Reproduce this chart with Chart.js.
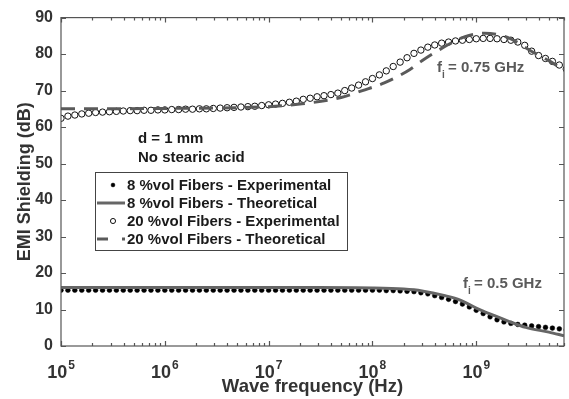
<!DOCTYPE html>
<html>
<head>
<meta charset="utf-8">
<script src="https://cdn.jsdelivr.net/npm/chart.js@4"></script>
<style>
  html, body { margin: 0; padding: 0; background: #ffffff; }
  #chart { display: block; }
</style>
</head>
<body>
<canvas id="chart" width="569" height="399"></canvas>
<script>
// Measured points (15 per decade), shared by both experimental series
const expFreq = [
    1.000e5, 1.166e5, 1.359e5, 1.585e5, 1.848e5, 2.154e5, 2.512e5, 2.929e5, 3.415e5, 3.981e5, 4.642e5, 5.412e5, 6.310e5, 7.356e5, 8.577e5,
    1.000e6, 1.166e6, 1.359e6, 1.585e6, 1.848e6, 2.154e6, 2.512e6, 2.929e6, 3.415e6, 3.981e6, 4.642e6, 5.412e6, 6.310e6, 7.356e6, 8.577e6,
    1.000e7, 1.166e7, 1.359e7, 1.585e7, 1.848e7, 2.154e7, 2.512e7, 2.929e7, 3.415e7, 3.981e7, 4.642e7, 5.412e7, 6.310e7, 7.356e7, 8.577e7,
    1.000e8, 1.166e8, 1.359e8, 1.585e8, 1.848e8, 2.154e8, 2.512e8, 2.929e8, 3.415e8, 3.981e8, 4.642e8, 5.412e8, 6.310e8, 7.356e8, 8.577e8,
    1.000e9, 1.166e9, 1.359e9, 1.585e9, 1.848e9, 2.154e9, 2.512e9, 2.929e9, 3.415e9, 3.981e9, 4.642e9, 5.412e9, 6.310e9, 7.356e9
];
const exp8 = [
    15.3, 15.3, 15.3, 15.3, 15.3, 15.3, 15.3, 15.3, 15.3, 15.3, 15.3, 15.3, 15.3, 15.3, 15.3,
    15.3, 15.3, 15.3, 15.3, 15.3, 15.3, 15.3, 15.3, 15.3, 15.3, 15.3, 15.3, 15.3, 15.3, 15.3,
    15.3, 15.3, 15.3, 15.3, 15.3, 15.3, 15.3, 15.3, 15.3, 15.3, 15.3, 15.3, 15.3, 15.3, 15.3,
    15.3, 15.3, 15.2, 15.2, 15.1, 15.0, 14.9, 14.6, 14.3, 13.8, 13.3, 12.8, 12.2, 11.5, 10.7,
    9.8, 8.9, 8.0, 7.2, 6.6, 6.2, 5.9, 5.7, 5.5, 5.3, 5.1, 4.9, 4.7, 4.4
];
const exp20 = [
    62.4, 63.0, 63.3, 63.6, 63.8, 64.0, 64.1, 64.2, 64.3, 64.4, 64.5, 64.5, 64.6, 64.6, 64.7,
    64.7, 64.8, 64.8, 64.9, 64.9, 65.0, 65.0, 65.1, 65.2, 65.3, 65.4, 65.5, 65.6, 65.7, 65.9,
    66.1, 66.3, 66.5, 66.8, 67.1, 67.6, 67.9, 68.3, 68.6, 68.9, 69.3, 70.0, 70.7, 71.5, 72.4,
    73.3, 74.3, 75.4, 76.6, 77.8, 79.0, 80.2, 81.1, 81.9, 82.5, 83.0, 83.3, 83.6, 83.8, 84.0,
    84.2, 84.3, 84.3, 84.2, 84.0, 83.8, 83.3, 82.4, 80.8, 79.6, 78.8, 78.0, 77.0, 75.9
];

// Theoretical curves
const theo8Freq = [1e5, 1e6, 1e7, 3e7, 1e8, 2e8, 3e8, 5e8, 7e8, 1e9, 1.5e9, 2e9, 3e9, 5e9, 7e9];
const theo8 = [16.0, 16.0, 16.0, 16.0, 15.9, 15.6, 15.1, 13.8, 12.6, 10.4, 8.3, 6.9, 5.1, 3.8, 2.8];
const theo20Freq = [1e5, 1e6, 1e7, 2e7, 5e7, 8e7, 1.3e8, 2.3e8, 3e8, 4.6e8, 7.8e8, 1.2e9, 2e9, 3.3e9, 5e9, 7e9];
const theo20 = [65.0, 65.1, 65.6, 66.3, 68.1, 70.0, 72.1, 75.8, 78.2, 81.5, 84.8, 85.7, 84.6, 81.0, 78.2, 75.6];

const seriesLabels = [
    '8 %vol Fibers - Experimental',
    '8 %vol Fibers - Theoretical',
    '20 %vol Fibers - Experimental',
    '20 %vol Fibers - Theoretical'
];
const yTicks = [0, 10, 20, 30, 40, 50, 60, 70, 80, 90];
const xDecades = [1e5, 1e6, 1e7, 1e8, 1e9];
const xExponents = ['5', '6', '7', '8', '9'];

function pairs(xs, ys) {
    return xs.map((x, i) => ({ x: x, y: ys[i] }));
}

const AXIS_COLOR = '#555555';
const TEXT_COLOR = '#333333';

// Box, inward ticks, x labels with exponents, notes and legend
const framePlugin = {
    id: 'frame',
    afterDatasetsDraw(chart) {
        const ctx = chart.ctx;
        const area = chart.chartArea;
        const xs = chart.scales.x;
        const ys = chart.scales.y;
        ctx.save();

        ctx.strokeStyle = AXIS_COLOR;
        ctx.lineWidth = 1.2;
        ctx.strokeRect(area.left, area.top, area.right - area.left, area.bottom - area.top);

        // y ticks on both sides
        ctx.beginPath();
        yTicks.forEach(v => {
            const py = Math.round(ys.getPixelForValue(v)) + 0.5;
            ctx.moveTo(area.left, py); ctx.lineTo(area.left + 5, py);
            ctx.moveTo(area.right, py); ctx.lineTo(area.right - 5, py);
        });
        // log x ticks, top and bottom
        xDecades.forEach(d => {
            for (let m = 1; m <= 9; m++) {
                const v = m * d;
                if (v > xs.max) break;
                const px = Math.round(xs.getPixelForValue(v)) + 0.5;
                const len = m === 1 ? 5 : 3;
                ctx.moveTo(px, area.bottom); ctx.lineTo(px, area.bottom - len);
                ctx.moveTo(px, area.top); ctx.lineTo(px, area.top + len);
            }
        });
        ctx.stroke();

        // x tick labels: 10 with superscript exponent
        ctx.fillStyle = TEXT_COLOR;
        ctx.textBaseline = 'alphabetic';
        ctx.textAlign = 'left';
        xDecades.forEach((d, i) => {
            const px = xs.getPixelForValue(d);
            ctx.font = 'bold 18px "Liberation Sans", Arial, sans-serif';
            const wBase = ctx.measureText('10').width;
            ctx.font = 'bold 12px "Liberation Sans", Arial, sans-serif';
            const wExp = ctx.measureText(xExponents[i]).width;
            const x0 = px - (wBase + wExp + 1) / 2;
            ctx.font = 'bold 18px "Liberation Sans", Arial, sans-serif';
            ctx.fillText('10', x0, 378);
            ctx.font = 'bold 12px "Liberation Sans", Arial, sans-serif';
            ctx.fillText(xExponents[i], x0 + wBase + 1, 369);
        });

        // notes
        ctx.font = 'bold 15px "Liberation Sans", Arial, sans-serif';
        ctx.fillStyle = '#1a1a1a';
        ctx.fillText('d = 1 mm', 138, 143);
        ctx.fillText('No stearic acid', 138, 162);

        function fiNote(x, y, rest) {
            ctx.fillStyle = '#5a5a5a';
            ctx.font = 'bold 15px "Liberation Sans", Arial, sans-serif';
            ctx.fillText('f', x, y);
            ctx.font = 'bold 10px "Liberation Sans", Arial, sans-serif';
            ctx.fillText('i', x + 5, y + 6);
            ctx.font = 'bold 15px "Liberation Sans", Arial, sans-serif';
            ctx.fillText(rest, x + 11, y);
        }
        fiNote(437, 72, '= 0.75 GHz');
        fiNote(463, 288, '= 0.5 GHz');

        // legend
        const lx = 95, ly = 172, lw = 252, lh = 78;
        ctx.fillStyle = '#ffffff';
        ctx.fillRect(lx, ly, lw, lh);
        ctx.strokeStyle = '#444444';
        ctx.lineWidth = 1;
        ctx.strokeRect(lx + 0.5, ly + 0.5, lw, lh);
        const rowY = [185, 203, 221, 239];
        chart.data.datasets.forEach((ds, i) => {
            const y = rowY[i];
            if (ds.showLine) {
                ctx.save();
                ctx.strokeStyle = ds.borderColor;
                ctx.lineWidth = ds.borderWidth;
                ctx.setLineDash(ds.borderDash && ds.borderDash.length ? [11, 14] : []);
                ctx.beginPath();
                ctx.moveTo(97, y); ctx.lineTo(125, y);
                ctx.stroke();
                ctx.restore();
            } else {
                ctx.beginPath();
                ctx.arc(113, y, ds.pointRadius * 0.8, 0, Math.PI * 2);
                ctx.fillStyle = ds.pointBackgroundColor;
                ctx.fill();
                ctx.lineWidth = ds.pointBorderWidth;
                ctx.strokeStyle = ds.pointBorderColor;
                ctx.stroke();
            }
            ctx.fillStyle = '#1a1a1a';
            ctx.font = 'bold 15px "Liberation Sans", Arial, sans-serif';
            ctx.textBaseline = 'middle';
            ctx.fillText(ds.label, 127, y + 1);
            ctx.textBaseline = 'alphabetic';
        });

        ctx.restore();
    }
};

new Chart(document.getElementById('chart'), {
    type: 'scatter',
    data: {
        datasets: [
            {
                label: seriesLabels[0],
                data: pairs(expFreq, exp8),
                showLine: false,
                pointRadius: 2.4,
                pointBackgroundColor: '#000000',
                pointBorderColor: '#000000',
                pointBorderWidth: 0.5,
                order: 4
            },
            {
                label: seriesLabels[1],
                data: pairs(theo8Freq, theo8),
                showLine: true,
                borderColor: '#666666',
                borderWidth: 3,
                borderDash: [],
                pointRadius: 0,
                tension: 0.4,
                cubicInterpolationMode: 'monotone',
                order: 3
            },
            {
                label: seriesLabels[2],
                data: pairs(expFreq, exp20),
                showLine: false,
                pointRadius: 3.2,
                pointBackgroundColor: '#ffffff',
                pointBorderColor: '#111111',
                pointBorderWidth: 1,
                order: 2
            },
            {
                label: seriesLabels[3],
                data: pairs(theo20Freq, theo20),
                showLine: true,
                borderColor: '#5a5a5a',
                borderWidth: 3,
                borderDash: [14, 9],
                pointRadius: 0,
                tension: 0.4,
                cubicInterpolationMode: 'monotone',
                order: 1
            }
        ]
    },
    options: {
        responsive: false,
        animation: false,
        devicePixelRatio: 1,
        layout: { padding: { top: 16, right: 1, left: 0, bottom: 0 } },
        plugins: {
            legend: { display: false },
            tooltip: { enabled: false }
        },
        scales: {
            x: {
                type: 'logarithmic',
                min: 1e5,
                max: 7e9,
                grid: { display: false, drawTicks: false },
                border: { display: false },
                ticks: { display: false },
                title: {
                    display: true,
                    text: 'Wave frequency (Hz)',
                    color: TEXT_COLOR,
                    font: { family: '"Liberation Sans", Arial, sans-serif', size: 18.5, weight: 'bold' },
                    padding: { top: 0, bottom: 1 }
                },
                afterFit(scale) { scale.height = 53; }
            },
            y: {
                min: 0,
                max: 90,
                grid: { display: false, drawTicks: false },
                border: { display: false },
                ticks: {
                    stepSize: 10,
                    padding: 8,
                    color: TEXT_COLOR,
                    font: { family: '"Liberation Sans", Arial, sans-serif', size: 16, weight: 'bold' }
                },
                title: {
                    display: true,
                    text: 'EMI Shielding (dB)',
                    color: TEXT_COLOR,
                    font: { family: '"Liberation Sans", Arial, sans-serif', size: 18, weight: 'bold' },
                    padding: { top: 14, bottom: 0 }
                },
                afterFit(scale) { scale.width = 61; }
            }
        }
    },
    plugins: [framePlugin]
});
</script>
</body>
</html>
